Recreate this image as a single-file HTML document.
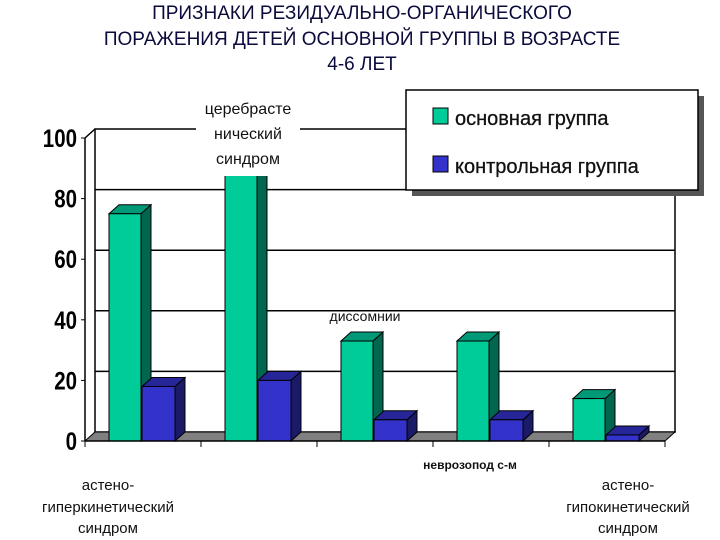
<!DOCTYPE html>
<html><head><meta charset="utf-8"><style>
body{margin:0;background:#fff;}
svg{display:block;font-family:"Liberation Sans","DejaVu Sans",sans-serif;}
</style></head><body>
<svg width="720" height="540" viewBox="0 0 720 540" id="chart">
<g fill="#0a0a3c" font-size="19" text-anchor="middle">
<text x="362" y="19">ПРИЗНАКИ РЕЗИДУАЛЬНО-ОРГАНИЧЕСКОГО</text>
<text x="362" y="45">ПОРАЖЕНИЯ ДЕТЕЙ ОСНОВНОЙ ГРУППЫ В ВОЗРАСТЕ</text>
<text x="362" y="70">4-6 ЛЕТ</text>
</g>
<g id="grid"></g>
<g id="bars"></g>
<g id="axis"></g>
<rect x="196" y="96" width="104" height="80" fill="#fff"/>
<g font-size="16" text-anchor="middle" fill="#111">
<text x="248" y="114">церебрасте</text><text x="248" y="139">нический</text><text x="248" y="164">синдром</text></g>
<text x="365" y="321" font-size="14" text-anchor="middle" fill="#111">диссомнии</text>
<text x="470" y="469" font-size="12" font-weight="bold" text-anchor="middle" fill="#111">неврозопод с-м</text>
<g font-size="15" text-anchor="middle" fill="#111">
<text x="108" y="490">астено-</text><text x="108" y="512">гиперкинетический</text><text x="108" y="533">синдром</text></g>
<g font-size="15" text-anchor="middle" fill="#111">
<text x="628" y="490">астено-</text><text x="628" y="512">гипокинетический</text><text x="628" y="533">синдром</text></g>
<g>
<rect x="412" y="96" width="292" height="100" fill="#555"/>
<rect x="406" y="90" width="292" height="100" fill="#fff" stroke="#000" stroke-width="1.5"/>
<rect x="433" y="108" width="15" height="16" fill="#00cc99" stroke="#000"/>
<text x="455" y="125" font-size="20" fill="#111" stroke="#111" stroke-width="0.3">основная группа</text>
<rect x="433" y="156" width="15" height="16" fill="#3333cc" stroke="#000"/>
<text x="455" y="173" font-size="20" fill="#111" stroke="#111" stroke-width="0.3">контрольная группа</text>
</g>
</svg>
<script>
const categories=["астено-гиперкинетический","церебрастенический","диссомнии","неврозопод","астено-гипокинетический"];
const mainValues=[75,95,33,33,14];
const controlValues=[18,20,7,7,2];
const tickValues=[0,20,40,60,80,100];
const NS="http://www.w3.org/2000/svg";
const X0=85,CW=116,Y0=441,SC=3.03,DX=10,DY=-9;
const y=v=>Y0-v*SC;
function mk(t,a,p){const e=document.createElementNS(NS,t);for(const k in a)e.setAttribute(k,a[k]);p.appendChild(e);return e;}
const grid=document.getElementById('grid'),bars=document.getElementById('bars'),axis=document.getElementById('axis');
const xEnd=X0+CW*categories.length;
mk('polygon',{points:`${X0+DX},${y(100)+DY} ${xEnd+DX},${y(100)+DY} ${xEnd+DX},${Y0+DY} ${X0+DX},${Y0+DY}`,fill:'#fff',stroke:'#000','stroke-width':1.5},grid);
tickValues.forEach(t=>{
 if(t>0&&t<100){const g=mk('line',{x1:X0+DX,x2:xEnd+DX,y1:y(t)+DY,y2:y(t)+DY,stroke:'#000','stroke-width':1.5},grid);
 }
 const tl=mk('text',{x:0,y:0,'font-size':25,'font-weight':'bold','text-anchor':'end',fill:'#000',transform:`translate(${X0-8},${y(t)+9}) scale(0.82,1)`},axis);
 tl.textContent=t;
 
 
 mk('line',{x1:X0-4,x2:X0,y1:y(t),y2:y(t),stroke:'#000'},axis);
});
const fl=mk('polygon',{points:`${X0},${Y0} ${xEnd},${Y0} ${xEnd+DX},${Y0+DY} ${X0+DX},${Y0+DY}`,fill:'#808080',stroke:'#000'},grid);

mk('line',{x1:X0,x2:X0,y1:Y0,y2:y(100),stroke:'#000','stroke-width':1.5},axis);
mk('line',{x1:X0,x2:X0+DX,y1:y(100),y2:y(100)+DY,stroke:'#000','stroke-width':1.5},axis);
mk('line',{x1:X0,x2:xEnd,y1:Y0,y2:Y0,stroke:'#000','stroke-width':1.5},axis);
for(let i=0;i<=categories.length;i++)mk('line',{x1:X0+CW*i,x2:X0+CW*i,y1:Y0,y2:Y0+6,stroke:'#000'},axis);
function bar(x,w,v,front,side,top,name){
 const g=mk('g',{},bars);
 
 
 const t=y(v);
 mk('polygon',{points:`${x+w},${Y0} ${x+w+DX},${Y0+DY} ${x+w+DX},${t+DY} ${x+w},${t}`,fill:side,stroke:'#000'},g);
 mk('polygon',{points:`${x},${t} ${x+DX},${t+DY} ${x+w+DX},${t+DY} ${x+w},${t}`,fill:top,stroke:'#000'},g);
 mk('rect',{x:x,y:t,width:w,height:Y0-t,fill:front,stroke:'#000'},g);
}
categories.forEach((c,i)=>{
 const bx=X0+CW*i+24;
 bar(bx,32,mainValues[i],'#00cc99','#006650','#009977','bar-main-'+(i+1));
 bar(bx+33,33,controlValues[i],'#3333cc','#1a1a66','#262699','bar-control-'+(i+1));
});
</script>
</body></html>
